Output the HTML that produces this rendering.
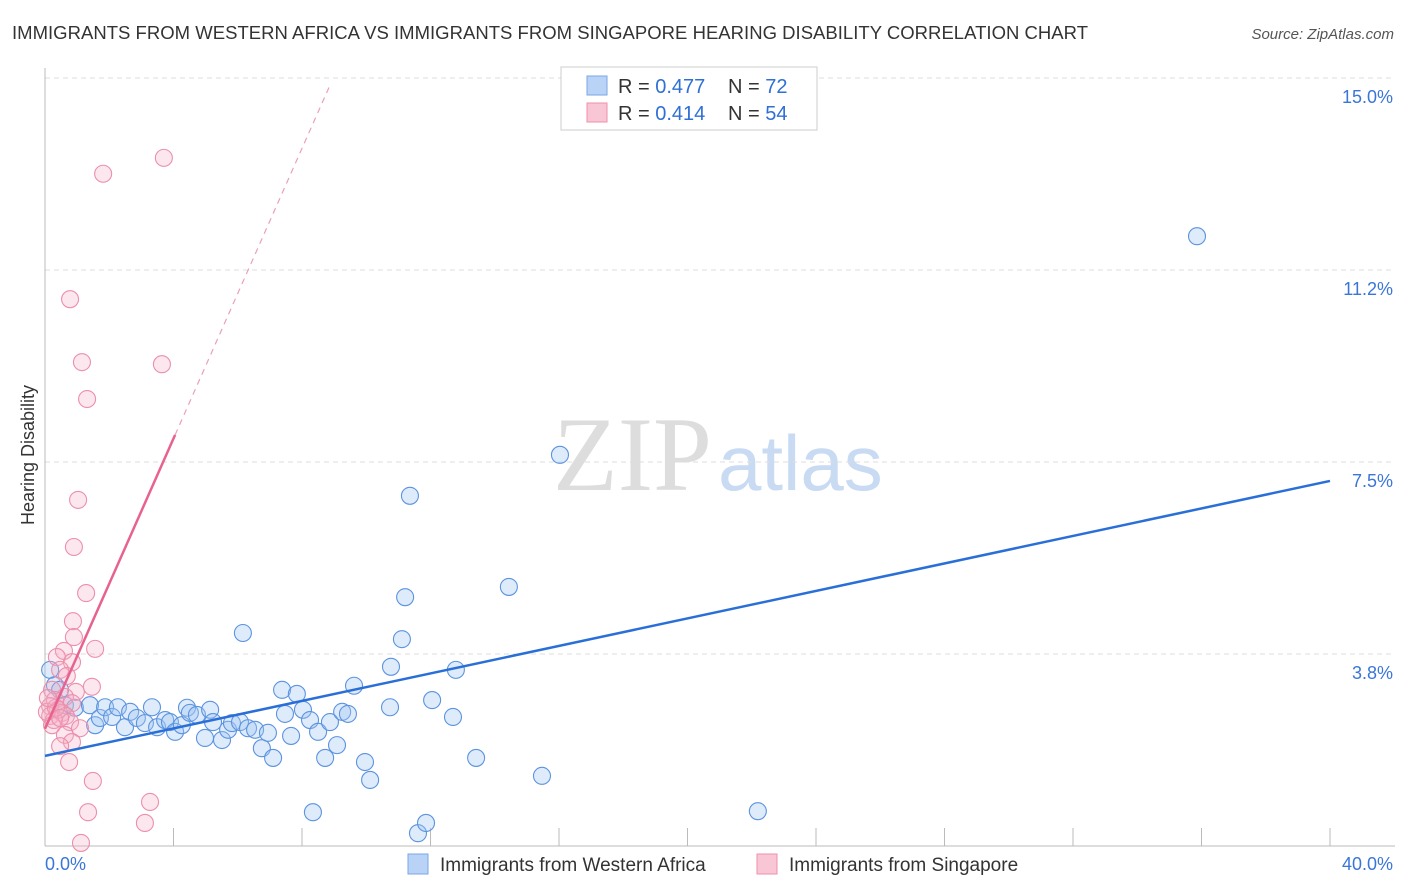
<!DOCTYPE html>
<html><head><meta charset="utf-8"><style>
body{margin:0;background:#fff;font-family:"Liberation Sans",sans-serif}
svg{display:block}
</style></head><body>
<svg width="1406" height="892" id="c">
<text x="12" y="39" font-size="18.5" fill="#333" textLength="1076">IMMIGRANTS FROM WESTERN AFRICA VS IMMIGRANTS FROM SINGAPORE HEARING DISABILITY CORRELATION CHART</text>
<text x="1394" y="39" font-size="15" fill="#555" font-style="italic" text-anchor="end">Source: ZipAtlas.com</text>
<text x="553" y="490" font-size="106" fill="#ddd" font-family="Liberation Serif,serif">ZIP</text>
<text x="718" y="490" font-size="78" fill="#c9daf3">atlas</text>
<text transform="translate(34,455) rotate(-90)" font-size="18" fill="#333" text-anchor="middle">Hearing Disability</text>
<g id="grid"></g><g id="pts"></g><g id="lines"></g>
<g>
<rect x="561" y="67" width="256" height="63" fill="#fff" stroke="#ccc"/>
<rect x="587" y="76" width="20" height="19" fill="#b9d3f6" stroke="#7aa6e6"/>
<text x="618" y="93" font-size="20" fill="#333">R = <tspan fill="#2f6fd6">0.477</tspan></text>
<text x="728" y="93" font-size="20" fill="#333">N = <tspan fill="#2f6fd6">72</tspan></text>
<rect x="587" y="103" width="20" height="19" fill="#f9c6d5" stroke="#ee90ac"/>
<text x="618" y="120" font-size="20" fill="#333">R = <tspan fill="#2f6fd6">0.414</tspan></text>
<text x="728" y="120" font-size="20" fill="#333">N = <tspan fill="#2f6fd6">54</tspan></text>
</g>
<g>
<rect x="408" y="854" width="20" height="20" fill="#b9d3f6" stroke="#7aa6e6"/>
<text x="440" y="871" font-size="19" fill="#333">Immigrants from Western Africa</text>
<rect x="757" y="854" width="20" height="20" fill="#f9c6d5" stroke="#ee90ac"/>
<text x="789" y="871" font-size="19" fill="#333">Immigrants from Singapore</text>
</g>
</svg>
<script>
const blueX=[0.16,0.31,0.47,0.62,0.93,1.40,1.56,1.71,1.87,2.09,2.27,2.49,2.65,2.86,3.11,3.33,3.49,3.74,3.89,4.05,4.26,4.42,4.51,4.73,4.98,5.14,5.23,5.51,5.70,5.82,6.07,6.32,6.54,6.75,6.94,7.10,6.16,7.38,7.47,7.66,7.84,8.03,8.25,8.34,8.50,8.72,8.87,9.09,9.25,9.43,9.62,9.96,10.12,10.74,10.77,11.11,11.21,11.36,11.61,11.86,12.05,12.70,12.79,13.42,14.44,15.47,16.03,22.19,35.86];
const blueY=[3.44,3.14,3.05,2.75,2.70,2.75,2.36,2.50,2.71,2.52,2.71,2.32,2.62,2.50,2.40,2.71,2.32,2.46,2.42,2.23,2.36,2.70,2.60,2.56,2.11,2.66,2.42,2.07,2.27,2.40,2.42,2.30,2.27,1.91,2.21,1.72,4.16,3.05,2.58,2.15,2.97,2.66,2.46,0.66,2.23,1.72,2.42,1.97,2.62,2.58,3.13,1.64,1.29,2.71,3.50,4.04,4.86,6.84,0.25,0.45,2.85,2.52,3.44,1.72,5.06,1.37,7.64,0.68,11.91];
const pinkX=[3.70,1.81,0.78,1.15,3.64,1.31,1.03,0.90,1.28,0.87,0.90,1.56,0.59,0.37,0.84,0.47,0.68,1.46,0.22,0.96,0.62,0.31,0.84,0.16,0.40,0.53,0.16,0.65,0.28,0.78,0.22,1.09,0.62,0.84,0.47,0.75,1.49,1.34,3.27,3.11,1.12,0.06,0.34,0.09,0.47];
const pinkY=[13.44,13.13,10.68,9.45,9.41,8.73,6.76,5.84,4.94,4.39,4.08,3.85,3.81,3.69,3.59,3.44,3.32,3.11,3.05,3.01,2.91,2.85,2.79,2.73,2.66,2.60,2.54,2.54,2.46,2.42,2.36,2.30,2.17,2.03,1.95,1.64,1.27,0.66,0.86,0.45,0.06,2.62,2.70,2.89,2.50];
const blueTrend=[1.76,7.13];
const pinkTrend=[2.29,1.417];
const yTicks=[3.75,7.5,11.25,15];
const yTickLabels=["3.8%","7.5%","11.2%","15.0%"];
const xLabels=["0.0%","40.0%"];
const NS="http://www.w3.org/2000/svg";
const X=v=>45+v*32.125, Y=v=>846-v*51.2;
function mk(tag,attrs,parent){const e=document.createElementNS(NS,tag);for(const k in attrs)e.setAttribute(k,attrs[k]);parent.appendChild(e);return e;}
const grid=document.getElementById('grid');
yTicks.forEach((t,i)=>{
 const l=mk('line',{x1:45,x2:1395,y1:Y(t),y2:Y(t),stroke:'#ddd','stroke-dasharray':'5,4'},grid);
 
 
 const tx=mk('text',{x:1393,y:Y(t)+25,'font-size':18,fill:'#3a76d8','text-anchor':'end'},grid);
 tx.textContent=yTickLabels[i];
 
 
});
const ax=mk('line',{x1:45,x2:45,y1:68,y2:846,stroke:'#bbb'},grid);


const bx=mk('line',{x1:45,x2:1395,y1:846,y2:846,stroke:'#bbb'},grid);


for(let i=1;i<=10;i++){const t=mk('line',{x1:X(i*4),x2:X(i*4),y1:828,y2:846,stroke:'#bbb'},grid);
 
 }
[[0,'start',45],[40,'end',1393]].forEach((a,i)=>{const t=mk('text',{x:a[2],y:870,'font-size':18,fill:'#3a76d8','text-anchor':a[1]},grid);t.textContent=xLabels[i];
 
 });
const pts=document.getElementById('pts');
blueX.forEach((x,i)=>{const c=mk('circle',{cx:X(x),cy:Y(blueY[i]),r:8.5,fill:'rgba(160,197,242,0.35)',stroke:'#5b93e0','stroke-width':1.1},pts);
 
 });
pinkX.forEach((x,i)=>{const c=mk('circle',{cx:X(x),cy:Y(pinkY[i]),r:8.5,fill:'rgba(246,175,198,0.3)',stroke:'#ec8fab','stroke-width':1.1},pts);
 
 });
const ln=document.getElementById('lines');
const b=mk('line',{x1:X(0),y1:Y(blueTrend[0]),x2:X(40),y2:Y(blueTrend[1]),stroke:'#2a6fd8','stroke-width':2.5},ln);


const pe=v=>pinkTrend[0]+pinkTrend[1]*v;
const p1=mk('line',{x1:X(0),y1:Y(pe(0)),x2:X(4.05),y2:Y(pe(4.05)),stroke:'#e8628f','stroke-width':2.5},ln);


const p2=mk('line',{x1:X(4.05),y1:Y(pe(4.05)),x2:X(8.87),y2:Y(pe(8.87)),stroke:'#eaa0b8','stroke-width':1.2,'stroke-dasharray':'6,5'},ln);


</script>
</body></html>
